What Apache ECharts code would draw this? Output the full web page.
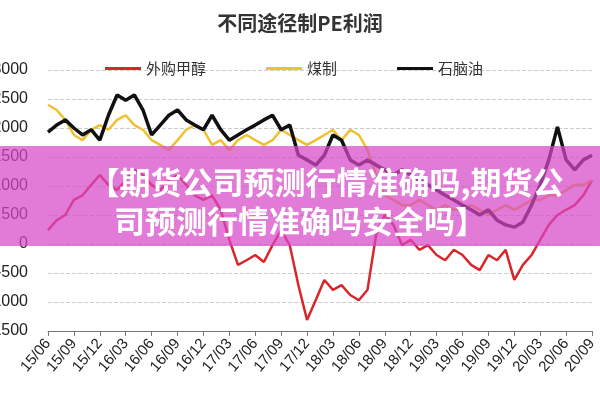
<!DOCTYPE html>
<html><head><meta charset="utf-8">
<script src="https://cdn.jsdelivr.net/npm/echarts@6/dist/echarts.min.js"></script>
<style>html,body{margin:0;padding:0;background:#fff}#c{width:600px;height:400px}</style>
</head><body><div id="c"></div>
<script>
const categories = [];
for (let y = 15; y <= 20; y++) for (let m = 1; m <= 12; m++) {
  if ((y === 15 && m < 6) || (y === 20 && m > 9)) continue;
  categories.push(y + '/' + String(m).padStart(2, '0'));
}
const seriesNames = ['外购甲醇', '煤制', '石脑油'];
const waigou = [240,410,500,760,840,1020,1190,1020,930,1100,1280,1190,1020,930,1100,1190,1020,840,760,840,590,70,-360,-280,-190,-310,-20,240,-20,-710,-1310,-970,-620,-790,-710,-880,-970,-790,160,500,330,-20,70,-100,-20,-190,-280,-100,-190,-360,-450,-190,-280,-100,-620,-360,-190,70,330,500,590,670,840,1100];
const meizhi = [2400,2310,2140,1880,1790,1970,2050,1970,2140,2220,2050,1970,1790,1710,1620,1790,1970,2050,1970,1710,1790,1620,1790,1880,1790,1710,1790,1970,1880,1790,1710,1790,1880,1970,1790,1970,1880,1620,1190,840,760,670,670,760,670,590,670,590,590,670,590,500,590,670,590,670,760,760,840,840,930,1020,1020,1100];
const naphtha = [1930,2050,2140,2000,1880,1970,1790,2220,2570,2480,2570,2310,1880,2050,2220,2310,2140,2050,1970,2220,1970,1790,1880,1970,2050,2140,2220,1970,2050,1530,1450,1360,1530,1880,1790,1450,1360,1450,1360,1280,1190,1280,1190,1100,1020,930,840,760,670,590,500,590,410,330,290,380,670,1020,1450,2020,1450,1280,1450,1530];
const chart = echarts.init(document.getElementById('c'));
const mk = (name, data, color, w) => ({name, type:'line', data, symbol:'none', lineStyle:{color, width:w}, itemStyle:{color}});
chart.setOption({
  animation:false,
  title:{text:'不同途径制PE利润', left:'center', top:8, textStyle:{fontSize:20, fontWeight:'bold', color:'#333', fontFamily:'Noto Sans CJK SC'}},
  legend:{top:56, left:100, itemWidth:36, itemHeight:3, itemGap:60, icon:'rect', textStyle:{fontSize:15, color:'#333', fontFamily:'Noto Sans CJK SC'}, data:seriesNames},
  grid:{left:48, right:8, top:70, bottom:69, outerBoundsMode:'none', containLabel:false},
  xAxis:[
    {type:'category', data:categories, boundaryGap:false, axisLine:{show:false}, axisTick:{show:false},
     axisLabel:{interval:2, rotate:50, fontSize:15, color:'#222', margin:10}},
    {type:'category', data:categories, boundaryGap:false, position:'bottom', axisLine:{onZero:true, lineStyle:{color:'#777'}},
     axisTick:{interval:2, length:5}, axisLabel:{show:false}}
  ],
  yAxis:{type:'value', min:-1500, max:3000, interval:500, axisLabel:{fontSize:16, color:'#222', margin:20, formatter: v => String(v)},
    axisLine:{show:false}, axisTick:{show:false}, splitLine:{lineStyle:{type:'dashed', color:'#ccc'}}},
  series:[mk(seriesNames[0], waigou, '#d9262b', 2.5), mk(seriesNames[1], meizhi, '#f0c030', 2.5), mk(seriesNames[2], naphtha, '#111', 3.5)],
  graphic:[
    {type:'rect', shape:{x:0, y:146, width:600, height:100}, style:{fill:'rgba(215,70,200,0.72)'}, z:100},
    {type:'text', x:326, y:182, style:{text:'【期货公司预测行情准确吗,期货公', fill:'#fff', font:'bold 31px "Noto Sans CJK SC"', align:'center', verticalAlign:'middle'}, z:101},
    {type:'text', x:300, y:221, style:{text:'司预测行情准确吗安全吗】', fill:'#fff', font:'bold 31px "Noto Sans CJK SC"', align:'center', verticalAlign:'middle'}, z:101}
  ]
});
</script></body></html>
